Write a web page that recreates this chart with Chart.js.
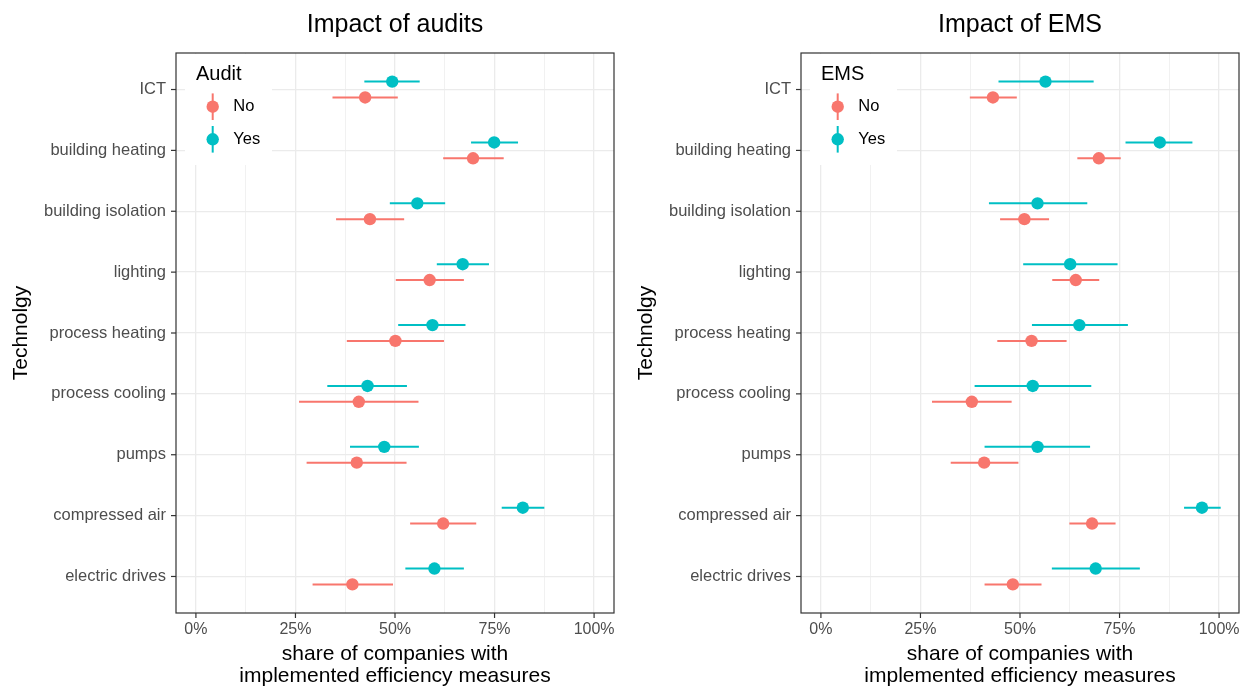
<!DOCTYPE html>
<html>
<head>
<meta charset="utf-8">
<script src="https://cdn.jsdelivr.net/npm/chart.js@4"></script>
<style>
  html, body { margin: 0; padding: 0; background: #fff; }
  canvas { position: absolute; top: 0; }
  #audits { left: 0; }
  #ems { left: 625px; }
</style>
</head>
<body>
<canvas id="audits" width="625" height="688"></canvas>
<canvas id="ems" width="626" height="688"></canvas>
<script>
// Technologies, top to bottom
const categories = ['ICT', 'building heating', 'building isolation', 'lighting', 'process heating',
                    'process cooling', 'pumps', 'compressed air', 'electric drives'];

// Share of companies with implemented measures: estimate with lower / upper interval bound
const auditNo    = [0.425, 0.696, 0.437, 0.587, 0.501, 0.409, 0.404, 0.621, 0.393];
const auditNoLo  = [0.343, 0.621, 0.352, 0.502, 0.379, 0.259, 0.278, 0.538, 0.293];
const auditNoHi  = [0.507, 0.773, 0.523, 0.673, 0.623, 0.559, 0.529, 0.704, 0.495];
const auditYes   = [0.493, 0.749, 0.556, 0.670, 0.594, 0.431, 0.473, 0.821, 0.599];
const auditYesLo = [0.423, 0.691, 0.487, 0.605, 0.508, 0.330, 0.387, 0.768, 0.526];
const auditYesHi = [0.562, 0.809, 0.626, 0.736, 0.677, 0.530, 0.560, 0.875, 0.673];

const emsNo    = [0.432, 0.698, 0.511, 0.640, 0.529, 0.379, 0.410, 0.681, 0.482];
const emsNoLo  = [0.374, 0.644, 0.450, 0.581, 0.443, 0.279, 0.326, 0.624, 0.411];
const emsNoHi  = [0.492, 0.753, 0.573, 0.699, 0.617, 0.479, 0.496, 0.740, 0.554];
const emsYes   = [0.564, 0.851, 0.544, 0.626, 0.649, 0.532, 0.544, 0.957, 0.690];
const emsYesLo = [0.446, 0.765, 0.422, 0.508, 0.530, 0.386, 0.411, 0.912, 0.580];
const emsYesHi = [0.685, 0.933, 0.669, 0.745, 0.771, 0.679, 0.676, 1.004, 0.801];

const xTickValues  = [0, 0.25, 0.5, 0.75, 1];
const xTickLabels  = ['0%', '25%', '50%', '75%', '100%'];
const xMinorValues = [0.125, 0.375, 0.625, 0.875];
const groupLabels  = ['No', 'Yes'];

const FONT = '"Liberation Sans", Arial, sans-serif';
const COL_NO = '#F8766D';
const COL_YES = '#00BFC4';
const DODGE = 0.13;          // vertical offset of the two groups within a category
const POINT_R = 6.2;

function line(ctx, x0, y0, x1, y1) {
  ctx.beginPath(); ctx.moveTo(x0, y0); ctx.lineTo(x1, y1); ctx.stroke();
}

// White legend box with title and point-range keys, inside the panel
const keyLegend = {
  id: 'keyLegend',
  beforeDatasetsDraw(chart, args, opts) {
    const { ctx, chartArea: a } = chart;
    ctx.save();
    ctx.fillStyle = '#fff';
    ctx.fillRect(a.left + 9, a.top + 1, 87, 111);
    ctx.textAlign = 'left';
    ctx.textBaseline = 'middle';
    ctx.fillStyle = '#000';
    ctx.font = `20px ${FONT}`;
    ctx.fillText(opts.title, a.left + 20, a.top + 21);
    chart.data.datasets.forEach((ds, k) => {
      const cx = a.left + 36.7;
      const cy = a.top + 53.7 + k * 32.6;
      ctx.strokeStyle = ds.backgroundColor;
      ctx.lineWidth = 2;
      line(ctx, cx, cy - 13.3, cx, cy + 13.3);
      ctx.fillStyle = ds.backgroundColor;
      ctx.beginPath(); ctx.arc(cx, cy, POINT_R, 0, Math.PI * 2); ctx.fill();
      ctx.fillStyle = '#000';
      ctx.font = `16.5px ${FONT}`;
      ctx.fillText(ds.label, a.left + 57.3, cy);
    });
    ctx.restore();
  }
};

// Horizontal interval lines behind each point
const errorBars = {
  id: 'errorBars',
  beforeDatasetsDraw(chart) {
    const { ctx, scales: { x, y } } = chart;
    ctx.save();
    ctx.lineWidth = 2;
    chart.data.datasets.forEach(ds => {
      ctx.strokeStyle = ds.backgroundColor;
      ds.data.forEach((p, i) => {
        const py = y.getPixelForValue(p.y);
        line(ctx, x.getPixelForValue(ds.lo[i]), py, x.getPixelForValue(ds.hi[i]), py);
      });
    });
    ctx.restore();
  }
};

// Panel border, axis tick marks and the panel title
const frame = {
  id: 'frame',
  afterDraw(chart, args, opts) {
    const { ctx, chartArea: a, scales: { x, y } } = chart;
    ctx.save();
    ctx.strokeStyle = '#333';
    ctx.lineWidth = 1.2;
    y.ticks.forEach(t => {
      const py = y.getPixelForValue(t.value);
      line(ctx, a.left - 5, py, a.left, py);
    });
    xTickValues.forEach(v => {
      const px = x.getPixelForValue(v);
      line(ctx, px, a.bottom, px, a.bottom + 5);
    });
    ctx.strokeRect(a.left, a.top, a.right - a.left, a.bottom - a.top);
    ctx.fillStyle = '#000';
    ctx.font = `25px ${FONT}`;
    ctx.textAlign = 'center';
    ctx.textBaseline = 'middle';
    ctx.fillText(opts.text, (a.left + a.right) / 2, 25.5);
    ctx.restore();
  }
};

function panel(id, title, legendTitle, no, noLo, noHi, yes, yesLo, yesHi, padRight) {
  const points = (vals, off) => categories.map((c, i) => ({ x: vals[i], y: i + 1 + off }));
  const pointStyle = col => ({
    backgroundColor: col, borderColor: col, borderWidth: 0,
    pointRadius: POINT_R, pointHoverRadius: POINT_R
  });
  new Chart(document.getElementById(id), {
    type: 'scatter',
    data: {
      datasets: [
        Object.assign({ label: groupLabels[0], data: points(no, DODGE), lo: noLo, hi: noHi }, pointStyle(COL_NO)),
        Object.assign({ label: groupLabels[1], data: points(yes, -DODGE), lo: yesLo, hi: yesHi }, pointStyle(COL_YES))
      ]
    },
    plugins: [keyLegend, errorBars, frame],
    options: {
      responsive: false,
      animation: false,
      devicePixelRatio: 1,
      events: [],
      layout: { padding: { top: 53, right: padRight, bottom: 0, left: 0 } },
      plugins: {
        legend: { display: false },
        tooltip: { enabled: false },
        title: { display: false },
        keyLegend: { title: legendTitle },
        frame: { text: title }
      },
      scales: {
        x: {
          type: 'linear',
          min: -0.05,
          max: 1.05,
          afterBuildTicks: s => {
            s.ticks = [...xTickValues, ...xMinorValues].sort((a, b) => a - b).map(v => ({ value: v }));
          },
          afterFit: s => { s.height = 75; },
          border: { display: false },
          grid: {
            drawTicks: false,
            color: '#ebebeb',
            lineWidth: c => (c.tick && xTickValues.includes(c.tick.value)) ? 1.3 : 0.7
          },
          ticks: {
            autoSkip: false,
            maxRotation: 0,
            padding: 7,
            color: '#4d4d4d',
            font: { family: FONT, size: 16 },
            callback: v => {
              const k = xTickValues.indexOf(v);
              return k < 0 ? '' : xTickLabels[k];
            }
          },
          title: {
            display: true,
            text: ['share of companies with', 'implemented efficiency measures'],
            color: '#000',
            font: { family: FONT, size: 21, lineHeight: 1.03 },
            padding: { top: 0, bottom: 1 }
          }
        },
        y: {
          type: 'linear',
          reverse: true,
          min: 0.4,
          max: 9.6,
          afterBuildTicks: s => { s.ticks = categories.map((c, i) => ({ value: i + 1 })); },
          afterFit: s => { s.width = 176; },
          border: { display: false },
          grid: { drawTicks: false, color: '#ebebeb', lineWidth: 1.3 },
          ticks: {
            autoSkip: false,
            padding: 10,
            color: '#4d4d4d',
            font: { family: FONT, size: 16.5 },
            callback: v => categories[v - 1] || ''
          },
          title: {
            display: true,
            text: 'Technolgy',
            color: '#000',
            font: { family: FONT, size: 21, lineHeight: 1 },
            padding: { top: 11, bottom: 0 }
          }
        }
      }
    }
  });
}

panel('audits', 'Impact of audits', 'Audit',
      auditNo, auditNoLo, auditNoHi, auditYes, auditYesLo, auditYesHi, 11);
panel('ems', 'Impact of EMS', 'EMS',
      emsNo, emsNoLo, emsNoHi, emsYes, emsYesLo, emsYesHi, 12);
</script>
</body>
</html>
